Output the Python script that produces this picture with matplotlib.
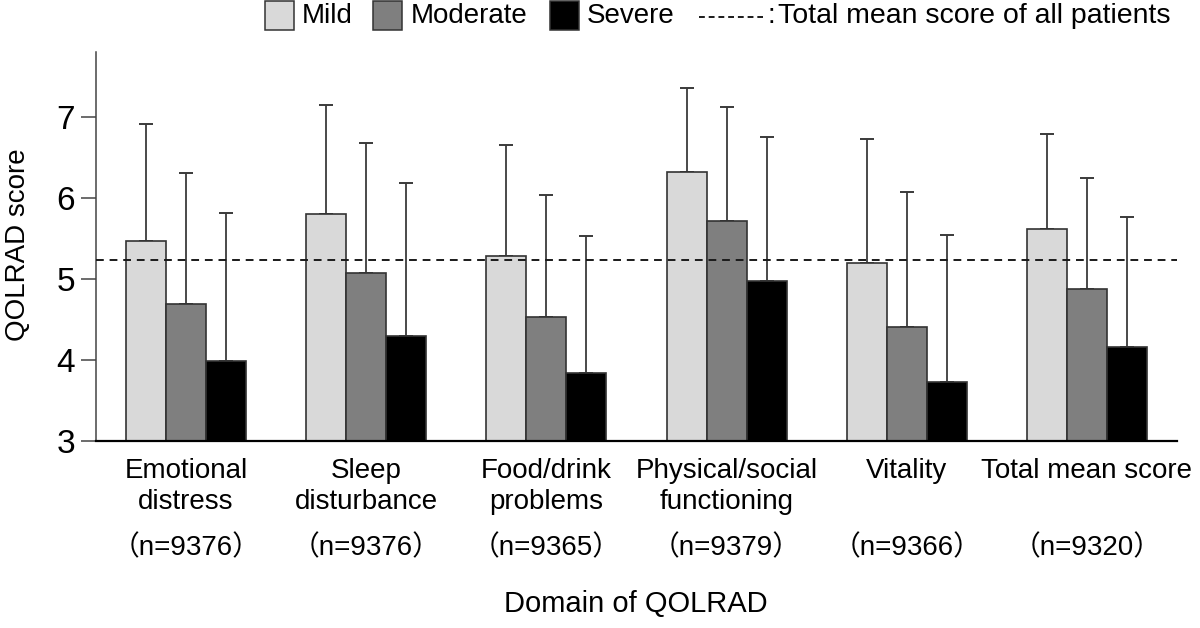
import numpy as np
import matplotlib
matplotlib.use('Agg')
from matplotlib import pyplot as plt
from matplotlib.patches import Rectangle
from matplotlib.lines import Line2D
import matplotlib.transforms as mtransforms

plt.rcParams['font.family'] = ['Liberation Sans', 'Noto Sans CJK JP', 'DejaVu Sans']

# data
domains = ['Emotional\ndistress', 'Sleep\ndisturbance', 'Food/drink\nproblems',
           'Physical/social\nfunctioning', 'Vitality', 'Total mean score']
n_labels = ['（n=9376）', '（n=9376）', '（n=9365）', '（n=9379）', '（n=9366）', '（n=9320）']
mild = [5.47, 5.80, 5.28, 6.32, 5.20, 5.61]
mild_upper = [6.91, 7.15, 6.65, 7.36, 6.73, 6.79]
moderate = [4.69, 5.07, 4.53, 5.71, 4.41, 4.88]
moderate_upper = [6.31, 6.68, 6.04, 7.12, 6.07, 6.24]
severe = [3.99, 4.30, 3.84, 4.98, 3.73, 4.16]
severe_upper = [5.81, 6.18, 5.53, 6.75, 5.54, 5.76]
overall_mean = 5.23
groups = ['Mild', 'Moderate', 'Severe']
colors = ['#d9d9d9', '#7f7f7f', '#000000']

W, H = 1200, 628
fig = plt.figure(figsize=(12, 6.28), dpi=100)
ax = fig.add_axes([96/W, 1-441/H, (1177-96)/W, (441-52)/H])

x = np.arange(len(domains))
w = 40/180.
series = [(mild, mild_upper), (moderate, moderate_upper), (severe, severe_upper)]
for i, (vals, upper) in enumerate(series):
    pos = x + (i-1)*w
    vals = np.array(vals)
    upper = np.array(upper)
    ax.errorbar(pos, vals, yerr=[np.zeros_like(vals), upper-vals], fmt='none',
                ecolor='#3a3a3a', elinewidth=1.3, capsize=5.3, capthick=1.4, zorder=1)
    ax.bar(pos, vals, width=w, color=colors[i], edgecolor='#333333', linewidth=1.2, zorder=2)

ax.axhline(overall_mean, ls=(0, (4, 3)), color='#1a1a1a', lw=1.4, zorder=3)

ax.set_xlim(-0.5, 5.5)
ax.set_ylim(3, 7.8)
ax.set_yticks([3, 4, 5, 6, 7])
ax.tick_params(axis='y', length=11, width=1.1, color='#444444', labelsize=24, pad=4)
ax.set_xticks(x)
ax.set_xticklabels(domains, fontsize=20, linespacing=1.25)
ax.tick_params(axis='x', length=0, pad=12)
for s in ['top', 'right']:
    ax.spines[s].set_visible(False)
ax.spines['left'].set_color('#444444')
ax.spines['left'].set_linewidth(1.1)
ax.spines['bottom'].set_linewidth(1.6)

trans = mtransforms.blended_transform_factory(ax.transData, ax.transAxes)
for xi, lab in zip(x, n_labels):
    ax.text(xi, -107/388., lab, transform=trans, ha='center', va='center', fontsize=20)

fig.text(18/W, 1-245/H, 'QOLRAD score', rotation=90, ha='center', va='center', fontsize=20)
fig.text(636/W, 1-604/H, 'Domain of QOLRAD', ha='center', va='center', fontsize=21)

# legend drawn by hand
patch_x = [265, 373, 550]
text_x = [302, 411, 587]
for px, tx, c, g in zip(patch_x, text_x, colors, groups):
    fig.add_artist(Rectangle((px/W, 1-30/H), 29/W, 29/H, transform=fig.transFigure,
                             facecolor=c, edgecolor='#333333', linewidth=1.1))
    fig.text(tx/W, 1-16/H, g, ha='left', va='center', fontsize=20)
fig.add_artist(Line2D([699/W, 763/W], [1-17/H, 1-17/H], transform=fig.transFigure,
                      color='#1a1a1a', lw=1.4, ls=(0, (3, 2))))
fig.text(767/W, 1-16/H, ':', ha='left', va='center', fontsize=20)
fig.text(778/W, 1-16/H, 'Total mean score of all patients', ha='left', va='center', fontsize=20.5)

fig.savefig('out.png', dpi=100)
